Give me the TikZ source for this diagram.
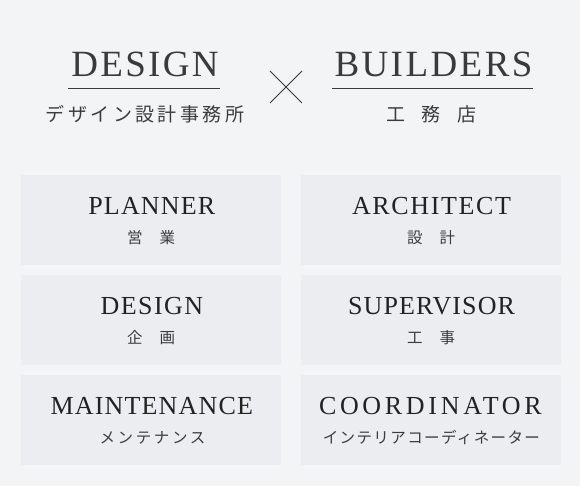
\documentclass[tikz,border=0pt]{standalone}
\usepackage{fontspec}
\newfontfamily\lat{Liberation Serif}
\newfontfamily\jp{Noto Sans CJK JP}
\definecolor{pagebg}{RGB}{243,244,246}
\definecolor{cardbg}{RGB}{236,237,240}
\definecolor{headtext}{RGB}{58,58,58}
\definecolor{titletext}{RGB}{34,34,34}
\definecolor{subtext}{RGB}{60,60,60}
\begin{document}
\begin{tikzpicture}[x=1pt,y=1pt,
  head/.style={anchor=base, inner sep=0pt, text=headtext, font=\lat\fontsize{37}{37}\selectfont},
  headjp/.style={anchor=base, inner sep=0pt, text=subtext, font=\jp\fontsize{19}{19}\selectfont},
  card/.style={fill=cardbg, draw=none, minimum width=260pt, minimum height=90pt, inner sep=0pt, anchor=north west},
  title/.style={anchor=base, inner sep=0pt, text=titletext, font=\lat\fontsize{26}{26}\selectfont},
  sub/.style={anchor=base, inner sep=0pt, text=subtext, font=\jp\fontsize{15.5}{15.5}\selectfont},
  rule/.style={draw=headtext, line width=1.1pt},
  crossline/.style={draw=headtext, line width=0.8pt}]
\useasboundingbox (0,0) rectangle (580,486);
\fill[pagebg] (0,0) rectangle (580,486);

% header
\node[head] (hd) at (145,409) {\addfontfeature{LetterSpace=6.3}DESIGN};
\node[head] (hb) at (433.5,409) {\addfontfeature{LetterSpace=6.6}BUILDERS};
\coordinate (ud1) at (68,397.7); \coordinate (ud2) at (220,397.7);
\coordinate (ub1) at (332,397.7); \coordinate (ub2) at (533,397.7);
\draw[rule] (ud1) -- (ud2);
\draw[rule] (ub1) -- (ub2);
\node[headjp] (hdj) at (145,364.5) {\addfontfeature{LetterSpace=18}デザイン設計事務所};
\node[headjp] (hbj) at (431.5,364.5) {工\hspace{17pt}務\hspace{17pt}店};
\coordinate (xa) at (270,415); \coordinate (xb) at (302,383);
\coordinate (xc) at (270,383); \coordinate (xd) at (302,415);
\draw[crossline] (xa) -- (xb);
\draw[crossline] (xc) -- (xd);

% cards
\node[card] (c1) at (21,311) {};
\node[card] (c2) at (301,311) {};
\node[card] (c3) at (21,211) {};
\node[card] (c4) at (301,211) {};
\node[card] (c5) at (21,111) {};
\node[card] (c6) at (301,111) {};

\node[title] (t1) at ([yshift=-40pt,xshift=0.6pt]c1.north) {\addfontfeature{LetterSpace=4.5}PLANNER};
\node[title] (t2) at ([yshift=-40pt,xshift=0.3pt]c2.north) {\addfontfeature{LetterSpace=6.3}ARCHITECT};
\node[title] (t3) at ([yshift=-40pt,xshift=0.7pt]c3.north) {\addfontfeature{LetterSpace=5.5}DESIGN};
\node[title] (t4) at ([yshift=-40pt,xshift=0.4pt]c4.north) {\addfontfeature{LetterSpace=4.3}SUPERVISOR};
\node[title] (t5) at ([yshift=-40pt,xshift=0.6pt]c5.north) {\addfontfeature{LetterSpace=4.5}MAINTENANCE};
\node[title] (t6) at ([yshift=-40pt,xshift=-0.8pt]c6.north) {\addfontfeature{LetterSpace=14.2}COORDINATOR};

\node[sub] (s1) at ([yshift=-68.5pt]c1.north) {営\hspace{17pt}業};
\node[sub] (s2) at ([yshift=-68.5pt]c2.north) {設\hspace{17pt}計};
\node[sub] (s3) at ([yshift=-68.5pt]c3.north) {企\hspace{17pt}画};
\node[sub] (s4) at ([yshift=-68.5pt]c4.north) {工\hspace{17pt}事};
\node[sub] (s5) at ([yshift=-68.5pt,xshift=1.3pt]c5.north) {\addfontfeature{LetterSpace=17}メンテナンス};
\node[sub] (s6) at ([yshift=-68.5pt,xshift=0.2pt]c6.north) {\addfontfeature{LetterSpace=9}インテリアコーディネーター};
\end{tikzpicture}
\end{document}
